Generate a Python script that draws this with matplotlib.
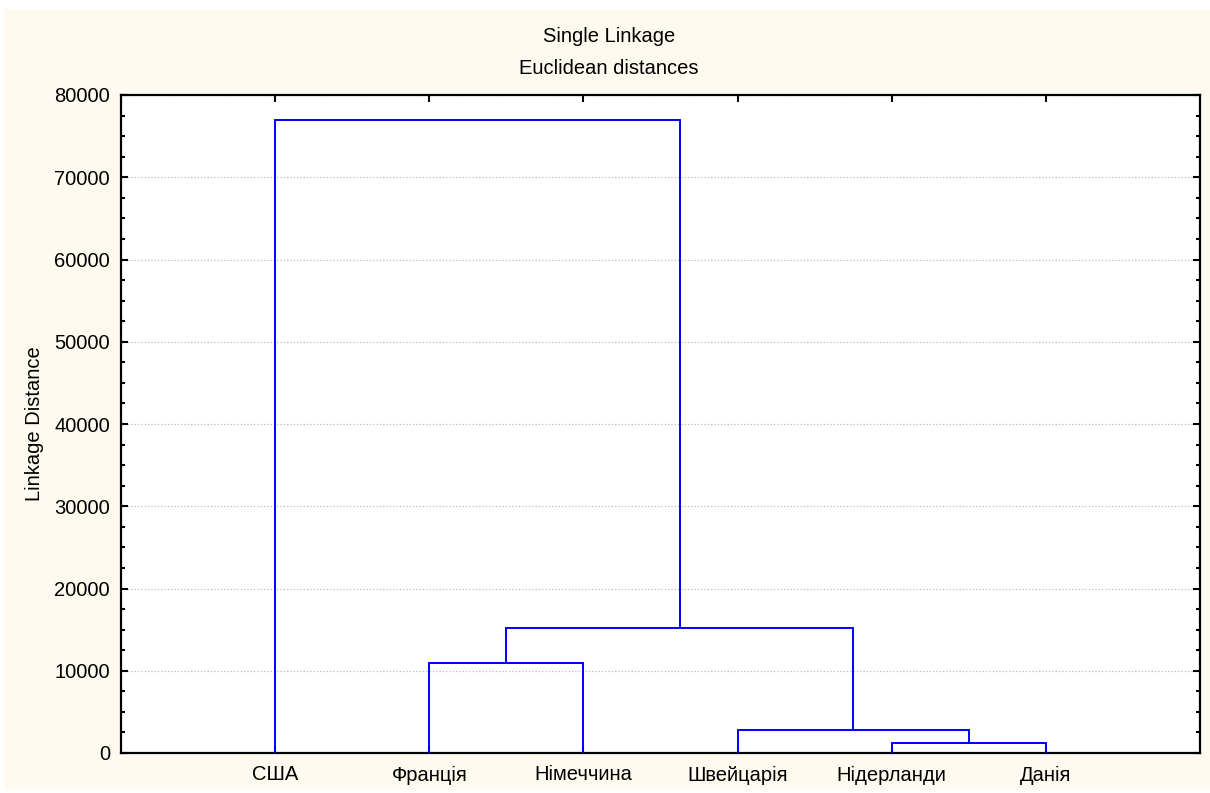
import matplotlib.pyplot as plt
from matplotlib.patches import Rectangle
from matplotlib.ticker import MultipleLocator

plt.rcParams['font.family'] = ['Liberation Sans', 'DejaVu Sans']

# leaves in dendrogram order
leaves = ['США', 'Франція', 'Німеччина', 'Швейцарія', 'Нідерланди', 'Данія']
# merges: (left cluster, right cluster, linkage distance); ids >= 6 are earlier merges
merges = [
    (4, 5, 1250),
    (3, 6, 2800),
    (1, 2, 11000),
    (8, 7, 15200),
    (0, 9, 77000),
]

fs = 14.5

fig = plt.figure(figsize=(12.1, 7.93), dpi=100)
fig.patches.append(Rectangle((4 / 1210, 0.004), 1.0, 0.985, transform=fig.transFigure,
                             facecolor='#fefaef', edgecolor='none', zorder=-10))
ax = fig.add_axes([121 / 1210, 40 / 793, 1079 / 1210, 658 / 793])

xs = {i: i + 1 for i in range(len(leaves))}
hs = {i: 0 for i in range(len(leaves))}
for k, (a, b, d) in enumerate(merges):
    ax.plot([xs[a], xs[a], xs[b], xs[b]], [hs[a], d, d, hs[b]], color='#0000ff', lw=1.4,
            solid_joinstyle='miter', zorder=3)
    nid = len(leaves) + k
    xs[nid] = (xs[a] + xs[b]) / 2
    hs[nid] = d

ax.set_xlim(0, len(leaves) + 1)
ax.set_ylim(0, 80000)
ax.set_xticks(range(1, len(leaves) + 1))
ax.set_xticklabels(leaves)
ax.yaxis.set_major_locator(MultipleLocator(10000))
ax.yaxis.set_minor_locator(MultipleLocator(2500))
ax.tick_params(axis='both', which='both', direction='in', top=True, right=True, labelsize=fs,
               width=1.5, color='black')
ax.tick_params(axis='both', which='major', length=5, pad=8)
ax.tick_params(axis='x', which='major', pad=9)
ax.tick_params(axis='y', which='minor', length=3)
ax.grid(axis='y', which='major', linestyle=':', color='#bbbbbb', lw=0.9)
for s in ax.spines.values():
    s.set_linewidth(1.6)
ax.set_ylabel('Linkage Distance', fontsize=fs, labelpad=7)

fig.text(609 / 1210, 1 - 36 / 793, 'Single Linkage', ha='center', va='center', fontsize=fs)
fig.text(609 / 1210, 1 - 68 / 793, 'Euclidean distances', ha='center', va='center', fontsize=fs)

fig.savefig('out.png', dpi=100)
